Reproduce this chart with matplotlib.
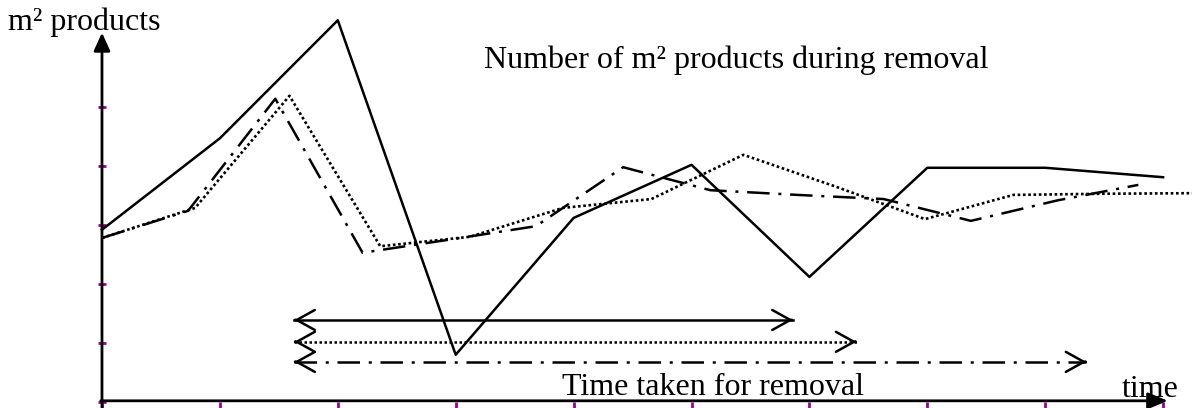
import matplotlib
matplotlib.use('Agg')
import matplotlib.pyplot as plt

# m² products over time (x in tick units, y in tick units)
solid_t = [0, 1, 2, 3, 4, 5, 6, 7, 8, 9]
solid_v = [2.92, 4.47, 6.47, 0.80, 3.12, 4.02, 2.12, 3.97, 3.97, 3.81]

dotted_t = [0, 0.79, 1.59, 2.36, 3.12, 3.91, 4.66, 5.44, 6.21, 6.98, 7.73, 8.50, 9.30]
dotted_v = [2.78, 3.29, 5.19, 2.64, 2.80, 3.29, 3.44, 4.19, 3.66, 3.10, 3.51, 3.53, 3.54]

dashdot_t = [0, 0.73, 1.47, 2.21, 2.94, 3.68, 4.42, 5.16, 5.90, 6.63, 7.37, 8.11, 8.79]
dashdot_v = [2.78, 3.24, 5.14, 2.53, 2.75, 2.98, 3.98, 3.59, 3.51, 3.44, 3.07, 3.42, 3.68]

# removal time spans
removal_start = [1.63, 1.63, 1.63]
removal_end = [5.86, 6.40, 8.35]
removal_level = [1.39, 1.02, 0.68]

styles = ['-', (0, (1, 1)), (0, (9, 3.5, 1.2, 3.5))]

plt.rcParams['font.family'] = ['Liberation Serif', 'DejaVu Serif']

fig = plt.figure(figsize=(11.92, 4.08), dpi=100)
ax = fig.add_axes([0, 0, 1, 1])
ax.set_xlim(-0.865, 9.245)
ax.set_ylim(-0.102, 6.814)

# data lines
ax.plot(solid_t, solid_v, color='black', lw=1.8, linestyle=styles[0])
ax.plot(dotted_t, dotted_v, color='black', lw=1.9, linestyle=styles[1])
ax.plot(dashdot_t, dashdot_v, color='black', lw=1.8, linestyle=styles[2])

# removal arrows
for s, e, lv, ls in zip(removal_start, removal_end, removal_level, styles):
    ax.plot([s, e], [lv, lv], color='black', lw=1.8, linestyle=ls)
    for tip, back in [(s, s + 0.01), (e, e - 0.01)]:
        ax.annotate('', xy=(tip, lv), xytext=(back, lv),
                    arrowprops=dict(arrowstyle='->, head_length=13, head_width=7.2',
                                    mutation_scale=1, lw=1.8, color='black',
                                    shrinkA=0, shrinkB=0))

# axes with arrow heads
for sp in ax.spines.values():
    sp.set_visible(False)
ax.spines['left'].set_position(('data', 0))
ax.spines['bottom'].set_position(('data', 0))
ax.annotate('', xy=(0, 6.26), xytext=(0, -0.1),
            arrowprops=dict(arrowstyle='-|>, head_length=11, head_width=5',
                            mutation_scale=1, lw=2, color='black',
                            shrinkA=0, shrinkB=0))
ax.annotate('', xy=(9.04, 0.02), xytext=(-0.01, 0.02),
            arrowprops=dict(arrowstyle='-|>, head_length=12, head_width=5',
                            mutation_scale=1, lw=2, color='black',
                            shrinkA=0, shrinkB=0))

ax.set_xticks(range(0, 10))
ax.set_yticks(range(0, 7))
ax.set_xticklabels([])
ax.set_yticklabels([])
ax.tick_params(axis='y', direction='inout', length=6, width=2, color='#990099')
ax.tick_params(axis='x', direction='out', length=6, width=2, color='#990099')

# labels
ax.text(-0.80, 6.31, 'm² products', fontsize=23, va='baseline', ha='left')
ax.text(3.24, 5.66, 'Number of m² products during removal', fontsize=23,
        va='baseline', ha='left')
ax.text(3.90, 0.12, 'Time taken for removal', fontsize=23, va='baseline', ha='left')
ax.text(8.65, 0.09, 'time', fontsize=23, va='baseline', ha='left')

fig.savefig('out.png', dpi=100)
